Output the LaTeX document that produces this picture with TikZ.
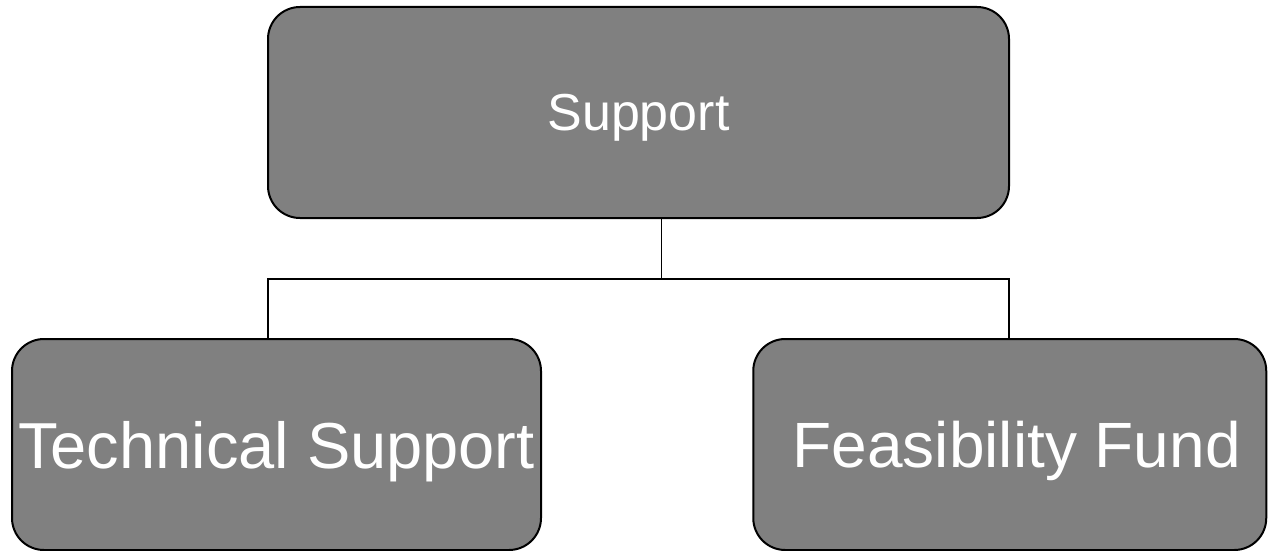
\documentclass[tikz,border=0pt]{standalone}
\usepackage{fontspec}
\setmainfont{Liberation Sans}
\begin{document}
\begin{tikzpicture}[x=1pt,y=-1pt,
  box/.style={draw=black, line width=2pt, fill={rgb,255:red,128;green,128;blue,128},
    rounded corners=32pt, inner sep=0pt, outer sep=0pt, text=white, align=center,
    minimum height=211pt, text depth=0pt},
  conn/.style={draw=black, line width=1.5pt}]
\useasboundingbox (0,0) rectangle (1268,551);
\node[box, minimum width=741pt, font=\fontsize{52}{60}\selectfont] (top) at (638.5,112.5) {Support};
\node[box, minimum width=529pt, font=\fontsize{65}{72}\selectfont] (left) at (276.5,444.5) {Technical Support};
\node[box, minimum width=513pt, font=\fontsize{64}{72}\selectfont] (right) at (1009.75,444.5) {\hspace*{14pt}Feasibility Fund};
\coordinate (jl) at (268,279);
\coordinate (jr) at (1009,279);
\draw[conn] ([xshift=23pt]top.south) -- ([xshift=23pt]top.south |- jl);
\draw[conn] (left.north -| jl) -- (jl) -- (jr) -- (right.north -| jr);
\end{tikzpicture}
\end{document}
